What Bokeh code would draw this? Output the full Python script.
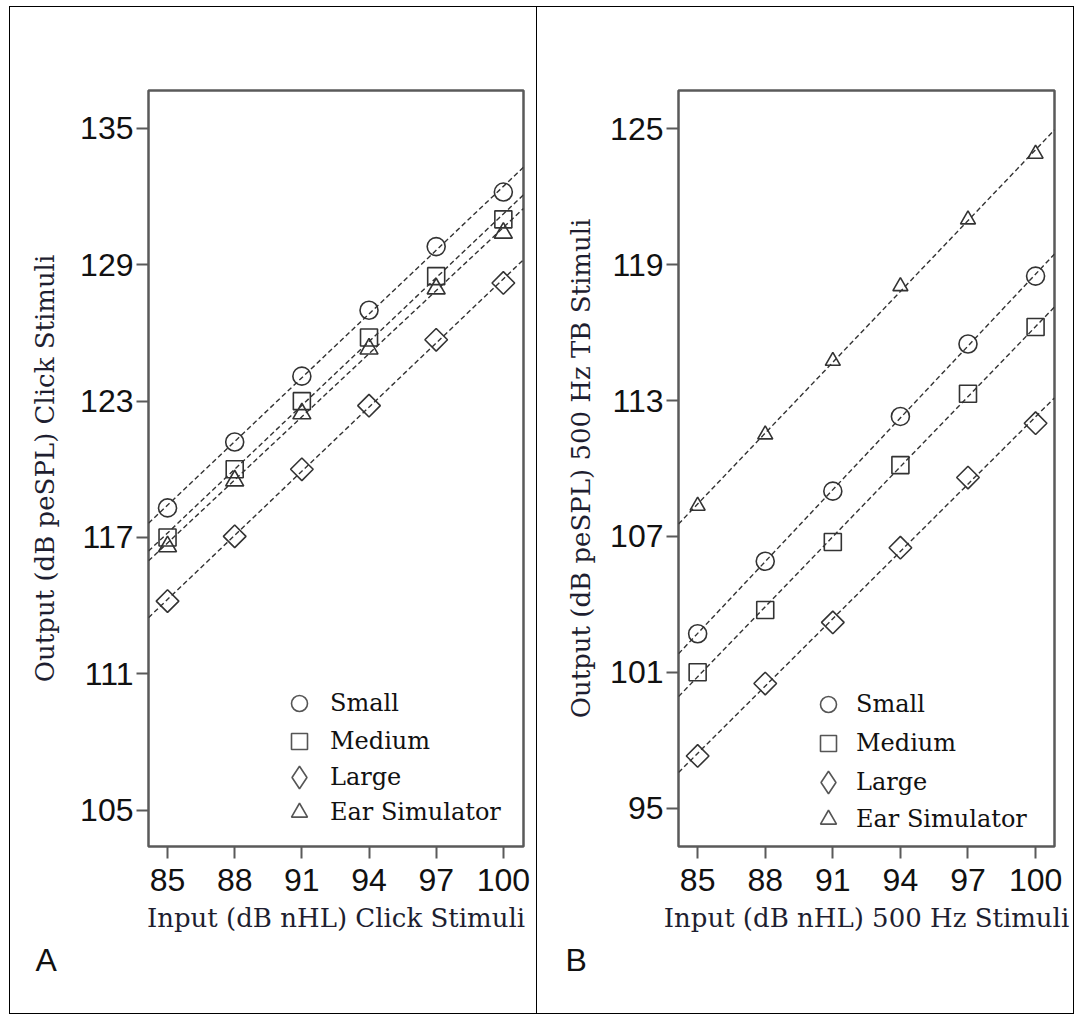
import numpy as np
from bokeh.plotting import figure
from bokeh.layouts import row
from bokeh.models import FixedTicker, Legend, LegendItem, Title, Range1d
from bokeh.embed import file_html
from bokeh.resources import INLINE

# ---------------- data ----------------
input_levels = [85, 88, 91, 94, 97, 100]
series_names = ["Small", "Medium", "Large", "Ear Simulator"]

click_small = [118.3, 121.2, 124.1, 127.0, 129.8, 132.2]
click_medium = [117.0, 120.0, 123.0, 125.8, 128.5, 131.0]
click_large = [114.2, 117.05, 120.0, 122.8, 125.7, 128.2]
click_ear = [116.6, 119.5, 122.45, 125.3, 127.95, 130.4]

tb_small = [102.7, 105.9, 109.0, 112.3, 115.5, 118.5]
tb_medium = [101.0, 103.75, 106.75, 110.15, 113.3, 116.25]
tb_large = [97.3, 100.5, 103.2, 106.5, 109.6, 112.0]
tb_ear = [108.35, 111.5, 114.75, 118.05, 121.0, 123.9]

x_ticks = [85, 88, 91, 94, 97, 100]
click_y_ticks = [105, 111, 117, 123, 129, 135]
tb_y_ticks = [95, 101, 107, 113, 119, 125]

click_xlabel = "Input (dB nHL) Click Stimuli"
click_ylabel = "Output (dB peSPL) Click Stimuli"
tb_xlabel = "Input (dB nHL) 500 Hz Stimuli"
tb_ylabel = "Output (dB peSPL) 500 Hz TB Stimuli"

# ---------------- styles ----------------
MARK = "#333333"
FRAME = "#5a5a5a"
LABEL_COL = "#1e1e30"
SERIF = "DejaVu Serif"
SANS = "Liberation Sans"


def make_panel(series, xlabel, ylabel, yticks, xr, yr, W, borders, tri_size,
               leg_cx, leg_tx, leg_rows, ylabel_standoff, letter, letter_off,
               border_css, margin):
    H = 1008
    p = figure(width=W, height=H, output_backend="svg", toolbar_location=None,
               x_range=Range1d(*xr), y_range=Range1d(*yr),
               min_border_left=borders[0], min_border_right=borders[1],
               min_border_top=borders[2], min_border_bottom=borders[3],
               background_fill_color="white", border_fill_color="white",
               styles=border_css, margin=margin)
    p.grid.visible = False
    p.outline_line_color = FRAME
    p.outline_line_width = 2.5

    for ax in (p.xaxis, p.yaxis):
        ax.axis_line_color = None
        ax.major_tick_line_color = FRAME
        ax.major_tick_line_width = 2
        ax.major_tick_out = 12
        ax.major_tick_in = 0
        ax.minor_tick_line_color = None
        ax.major_label_text_font = SANS
        ax.major_label_text_font_size = "32px"
        ax.major_label_text_color = "#111111"
        ax.axis_label_text_font = SERIF
        ax.axis_label_text_font_size = "26px"
        ax.axis_label_text_font_style = "normal"
        ax.axis_label_text_color = LABEL_COL

    p.xaxis.ticker = FixedTicker(ticks=x_ticks)
    p.yaxis.ticker = FixedTicker(ticks=yticks)
    p.xaxis.axis_label = xlabel
    p.yaxis.axis_label = ylabel
    p.xaxis.major_label_standoff = 10
    p.yaxis.major_label_standoff = 3
    p.xaxis.axis_label_standoff = 9
    p.yaxis.axis_label_standoff = ylabel_standoff

    x0, x1 = xr
    specs = [
        dict(marker="circle", size=18, angle=0.0, leg_marker="circle", leg_box=40),
        dict(marker="square", size=17, angle=0.0, leg_marker="square", leg_box=40),
        dict(marker="square", size=16, angle=np.pi / 4, leg_marker="diamond", leg_box=56),
        dict(marker="triangle", size=tri_size, angle=0.0, leg_marker="triangle", leg_box=40),
    ]
    for name, ys, spec, rc in zip(series_names, series, specs, leg_rows):
        xs = np.array(input_levels, dtype=float)
        yv = np.array(ys, dtype=float)
        slope, icpt = np.polyfit(xs, yv, 1)
        p.scatter(xs, yv, marker=spec["marker"], size=spec["size"],
                  angle=spec["angle"], fill_color=None,
                  line_color=MARK, line_width=1.6)
        p.line([x0, x1], [slope * x0 + icpt, slope * x1 + icpt],
               line_color="#333333", line_width=1.4, line_dash="5 3")
        # hidden renderer of the same series, used only for the legend key
        key = p.scatter(xs, yv, marker=spec["leg_marker"], fill_color=None,
                        line_color="#555555", line_width=1.6, visible=False)
        box = spec["leg_box"]
        leg = Legend(items=[LegendItem(label=name, renderers=[key])],
                     location=(leg_cx - box // 2, rc - box // 2),
                     glyph_width=box, glyph_height=box, spacing=0, padding=0,
                     margin=0, label_standoff=int(leg_tx - leg_cx - box // 2),
                     label_text_font=SERIF, label_text_font_size="24px",
                     label_text_color="#111111", border_line_color=None,
                     background_fill_alpha=0, inactive_fill_alpha=0)
        p.add_layout(leg, "center")

    p.add_layout(Title(text=letter, align="left", offset=letter_off,
                       standoff=8, text_font=SANS, text_font_size="32px",
                       text_font_style="normal", text_color="#111111"), "below")
    return p


pA = make_panel([click_small, click_medium, click_large, click_ear],
                click_xlabel, click_ylabel, click_y_ticks,
                (84.15, 100.9), (103.4, 136.67), 528, (138, 15, 83, 169), 18,
                151, 182, (143, 105, 69, 34), 17, "A", -113,
                {"border": "1px solid black"}, (6, 0, 0, 9))

pB = make_panel([tb_small, tb_medium, tb_large, tb_ear],
                tb_xlabel, tb_ylabel, tb_y_ticks,
                (84.15, 100.84), (93.3, 126.7), 537, (141, 20, 81, 166), 15,
                150, 178, (142, 103, 64, 27), 11, "B", -113,
                {"border-top": "1px solid black", "border-right": "1px solid black",
                 "border-bottom": "1px solid black"}, (6, 0, 0, 0))

layout = row(pA, pB)
open("out.html", "w").write(file_html(layout, INLINE))
